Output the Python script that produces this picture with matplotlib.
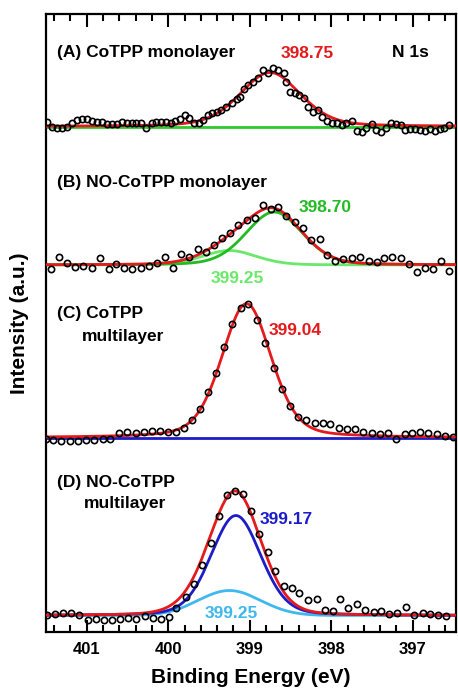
import numpy as np
import matplotlib
matplotlib.use("Agg")
import matplotlib.pyplot as plt
from matplotlib.ticker import MultipleLocator

plt.rcParams['font.family'] = ['Liberation Sans', 'DejaVu Sans']
plt.rcParams['font.weight'] = 'bold'
plt.rcParams['axes.labelweight'] = 'bold'

# ---- measured points (binding energy in eV, intensity above each baseline) ----
energy_A = [401.49, 401.43, 401.37, 401.30, 401.24, 401.18, 401.12, 401.06, 401.00, 400.94,
            400.88, 400.81, 400.75, 400.69, 400.63, 400.57, 400.51, 400.45, 400.39, 400.33,
            400.27, 400.20, 400.15, 400.09, 400.03, 399.97, 399.92, 399.86, 399.80, 399.75,
            399.69, 399.62, 399.57, 399.51, 399.46, 399.40, 399.35, 399.29, 399.22, 399.16,
            399.12, 399.07, 399.02, 398.96, 398.90, 398.84, 398.78, 398.72, 398.65, 398.58,
            398.55, 398.51, 398.45, 398.39, 398.34, 398.29, 398.23, 398.16, 398.11, 398.05,
            397.99, 397.93, 397.87, 397.82, 397.75, 397.68, 397.62, 397.57, 397.50, 397.45,
            397.39, 397.33, 397.27, 397.21, 397.15, 397.09, 397.04, 396.97, 396.91, 396.85,
            396.79, 396.73, 396.67, 396.62, 396.55]
counts_A = [4.3, 0, -1, -1, 0, 3.3, 6.7, 7.3, 8, 5.3,
            4.7, 4.3, 2.7, 2.3, 2.3, 4.7, 3.3, 3.3, 3.7, 4,
            -1.3, 3.3, 5, 5, 4.7, 4, 6, 8, 11.7, 8.3,
            4, 3.3, 6.7, 11.7, 14, 15, 16.7, 20, 24, 27.3,
            30, 38, 41.7, 45, 48.3, 56.7, 53.3, 58.3, 56.7, 54,
            45, 35, 33.3, 31.7, 28.3, 20, 15, 16.7, 10, 6,
            4, 3.3, 1.7, 3.3, 5.7, -4, -5, -1.7, 2.7, -3.3,
            -5, -1.7, 4, 2.7, 1.7, -3.3, -2.3, -2.3, -3.3, -4.3,
            -2.7, -4, -2.7, -1.7, 1.7]

energy_B = [401.44, 401.34, 401.24, 401.14, 401.04, 400.94, 400.84, 400.73, 400.64, 400.54,
            400.44, 400.34, 400.24, 400.14, 400.04, 399.94, 399.84, 399.74, 399.64, 399.54,
            399.44, 399.34, 399.24, 399.14, 399.04, 398.94, 398.84, 398.74, 398.65, 398.55,
            398.45, 398.35, 398.25, 398.14, 398.05, 397.95, 397.85, 397.75, 397.65, 397.54,
            397.44, 397.35, 397.25, 397.15, 397.05, 396.95, 396.85, 396.75, 396.65, 396.55]
counts_B = [-4, 8.3, 1.7, -1.7, -0.7, -3.3, 6.7, -4, 0.7, -3.3,
            -4, -3.3, -1, 2.3, 7.7, -2.7, 10.7, 8, 16, 13.3,
            20, 27.3, 31.7, 40, 45, 47.3, 60, 56, 58.3, 49.3,
            42.7, 36.7, 25, 25.7, 10, 4, 5.7, 7.3, 8.3, 4,
            3.3, 7.3, 7.7, 6.7, 0.7, -6.7, -3.3, -4, 4, -5.7]

energy_C = [401.50, 401.41, 401.31, 401.21, 401.11, 401.01, 400.91, 400.80, 400.71, 400.60,
            400.50, 400.40, 400.30, 400.20, 400.10, 400.00, 399.90, 399.81, 399.71, 399.61,
            399.51, 399.41, 399.32, 399.22, 399.11, 399.02, 398.91, 398.81, 398.70, 398.60,
            398.51, 398.41, 398.31, 398.20, 398.10, 398.01, 397.91, 397.81, 397.71, 397.61,
            397.50, 397.40, 397.31, 397.21, 397.10, 397.01, 396.91, 396.81, 396.70, 396.60,
            396.51]
counts_C = [-1.3, -2.3, -3, -3.3, -3, -2.3, -2.3, -1.3, -1.3, 4.3,
            6, 5, 5.3, 6.7, 7, 5.3, 6, 9.3, 17.7, 28.3,
            46, 65, 91, 113.7, 129.3, 133.3, 117.7, 95, 69.3, 48.3,
            32, 21, 17.7, 15, 14.3, 13.3, 9.3, 8.7, 8.3, 6,
            5, 3.3, 5, -1.3, 3.7, 5, 5.3, 5, 3.3, 2,
            1]

energy_D = [401.49, 401.39, 401.29, 401.19, 401.09, 400.99, 400.89, 400.79, 400.69, 400.59,
            400.49, 400.39, 400.29, 400.19, 400.09, 399.99, 399.90, 399.78, 399.68, 399.58,
            399.48, 399.38, 399.28, 399.18, 399.08, 398.99, 398.89, 398.78, 398.69, 398.58,
            398.48, 398.39, 398.29, 398.18, 398.08, 397.98, 397.89, 397.79, 397.69, 397.59,
            397.48, 397.39, 397.29, 397.19, 397.08, 396.98, 396.88, 396.79, 396.69, 396.59]
counts_D = [0.5, 1.5, 2.5, 2.5, 1, -4, -3.5, -4.5, -4, -3,
            -2.5, -3.5, -0.5, -2.5, -3, -1, 8, 18.7, 32, 51,
            72.7, 99.3, 120.3, 124.5, 122, 104.7, 82, 63.7, 44.7, 29.3,
            28, 22.7, 15.3, 16.3, 6, 4.3, 17, 7.7, 12, 5.3,
            3.7, 4.3, 1.3, 2.7, 8.7, 0.3, 3, 1.3, 0.3, -0.3]

# fitted components: (centre eV, height, fwhm eV, lorentz fraction)
peaks_A = [(398.75, 54, 0.88, 0.3)]
peaks_B = [(398.70, 53, 0.82, 0.2), (399.25, 14.5, 0.78, 0.2)]
peaks_C = [(399.04, 134, 0.72, 0.3)]
peaks_D = [(399.17, 100, 0.72, 0.2), (399.25, 25, 0.90, 0.0)]

# vertical stacking of the four spectra
offset_A = 505.5
offset_B = 367
offset_C = 194.3
offset_D = 16.5

red = '#e41a1c'
green = '#2ec92e'
dkgreen = '#22bb22'
ltgreen = '#6ae86a'
blue = '#1c1cc8'
cyan = '#3fb8ee'


def pseudo_voigt(x, center, height, fwhm, eta):
    g = np.exp(-4 * np.log(2) * ((x - center) / fwhm) ** 2)
    l = 1.0 / (1 + 4 * ((x - center) / fwhm) ** 2)
    return height * (eta * l + (1 - eta) * g)


def plot_points(ax, energy, counts, offset):
    ax.plot(energy, np.array(counts) + offset, 'o', ms=4.5, mfc='none',
            mec='black', mew=1.2, zorder=5)


xfit = np.linspace(396.3, 401.7, 800)

fig = plt.figure(figsize=(4.58, 6.94), dpi=100)
ax = fig.add_axes([0.1004, 0.0893, 0.8952, 0.8905])

# (A)
ax.axhline(offset_A, color=green, lw=2)
total = sum(pseudo_voigt(xfit, *p) for p in peaks_A)
ax.plot(xfit, total + offset_A, color=red, lw=2, zorder=4)
plot_points(ax, energy_A, counts_A, offset_A)

# (B)
comp1 = pseudo_voigt(xfit, *peaks_B[0])
comp2 = pseudo_voigt(xfit, *peaks_B[1])
ax.plot(xfit, comp2 + offset_B, color=ltgreen, lw=2)
ax.plot(xfit, comp1 + offset_B, color=dkgreen, lw=2)
ax.plot(xfit, comp1 + comp2 + offset_B, color=red, lw=2, zorder=4)
plot_points(ax, energy_B, counts_B, offset_B)

# (C)
ax.axhline(offset_C, color=blue, lw=2)
total = sum(pseudo_voigt(xfit, *p) for p in peaks_C)
ax.plot(xfit, total + offset_C, color=red, lw=2, zorder=4)
plot_points(ax, energy_C, counts_C, offset_C)

# (D)
comp1 = pseudo_voigt(xfit, *peaks_D[0])
comp2 = pseudo_voigt(xfit, *peaks_D[1])
ax.plot(xfit, comp2 + offset_D, color=cyan, lw=2)
ax.plot(xfit, comp1 + offset_D, color=blue, lw=2)
ax.plot(xfit, comp1 + comp2 + offset_D, color=red, lw=2, zorder=4)
plot_points(ax, energy_D, counts_D, offset_D)

fs = 12.5
ax.text(401.36, 580, '(A) CoTPP monolayer', fontsize=fs, va='center')
ax.text(396.80, 580, 'N 1s', fontsize=fs, va='center', ha='right')
ax.text(398.29, 579, '398.75', fontsize=fs, va='center', ha='center', color=red)
ax.text(401.36, 450, '(B) NO-CoTPP monolayer', fontsize=fs, va='center')
ax.text(398.08, 425, '398.70', fontsize=fs, va='center', ha='center', color=dkgreen)
ax.text(399.15, 354, '399.25', fontsize=fs, va='center', ha='center', color=ltgreen)
ax.text(401.36, 319, '(C) CoTPP', fontsize=fs, va='center')
ax.text(401.06, 296, 'multilayer', fontsize=fs, va='center')
ax.text(398.44, 302, '399.04', fontsize=fs, va='center', ha='center', color=red)
ax.text(401.36, 150, '(D) NO-CoTPP', fontsize=fs, va='center')
ax.text(401.04, 129, 'multilayer', fontsize=fs, va='center')
ax.text(398.55, 113, '399.17', fontsize=fs, va='center', ha='center', color=blue)
ax.text(399.23, 19, '399.25', fontsize=fs, va='center', ha='center', color=cyan)

ax.set_xlim(401.5, 396.47)
ax.set_ylim(0, 618)
ax.set_yticks([])
ax.xaxis.set_major_locator(MultipleLocator(1))
ax.xaxis.set_minor_locator(MultipleLocator(0.2))
ax.tick_params(axis='x', which='major', direction='in', top=True, length=9,
               width=1.5, labelsize=12, pad=7)
ax.tick_params(axis='x', which='minor', direction='in', top=True, length=5, width=1.5)
for s in ax.spines.values():
    s.set_linewidth(1.6)

ax.set_xlabel('Binding Energy (eV)', fontsize=15, fontweight='bold', labelpad=8)
ax.set_ylabel('Intensity (a.u.)', fontsize=15, fontweight='bold', labelpad=12)

fig.savefig('out.png', dpi=100)
